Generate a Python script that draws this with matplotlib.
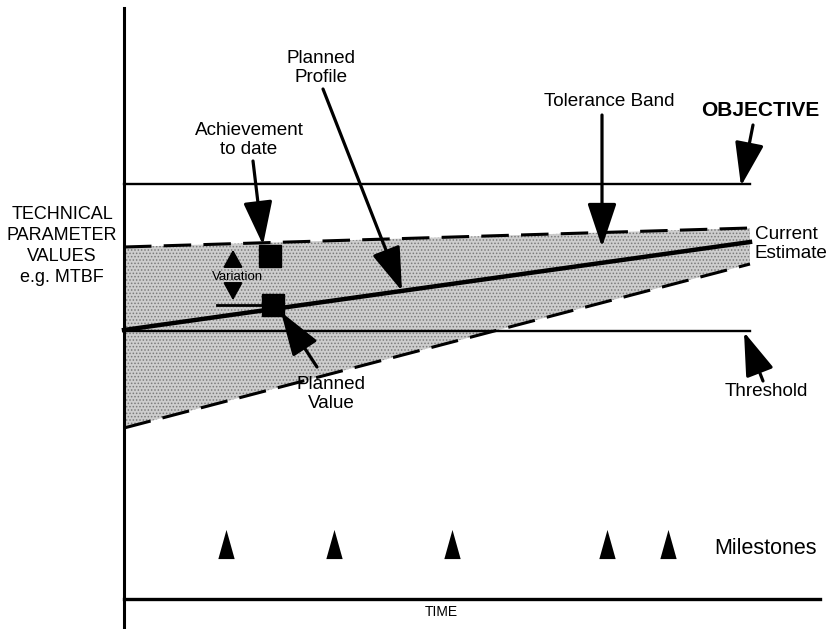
import matplotlib.pyplot as plt
from matplotlib.path import Path

plt.rcParams['font.family'] = ['Liberation Sans', 'DejaVu Sans']
plt.rcParams['hatch.linewidth'] = 0.7

# chart coordinates (x = time, y = drawing units, top = 0)
t_start, t_end = 124, 750
objective = 184
threshold = 331
upper_band = [247, 228]
lower_band = [428, 264]
planned_profile = [330, 242]
achievement = (270, 256)
planned_value = (273, 305)
milestones_x = [226, 334, 452, 607, 668]
milestone_y = 544

fig = plt.figure(figsize=(8.27, 6.29), dpi=100)
ax = fig.add_axes([0, 0, 1, 1])
ax.set_xlim(0, 827)
ax.set_ylim(629, 0)
ax.axis('off')

xs = [t_start, t_end]
# tolerance band
ax.fill_between(xs, upper_band, lower_band, facecolor='#cdcdcd', hatch='.....',
                edgecolor='#7a7a7a', lw=0, zorder=1)
ax.plot(xs, upper_band, color='black', lw=2.2, ls=(0, (9, 4)), zorder=3)
ax.plot(xs, lower_band, color='black', lw=2.2, ls=(0, (9, 4)), zorder=3)
ax.plot(xs, planned_profile, color='black', lw=3.2, zorder=3)

# objective / threshold
ax.plot([t_start, t_end], [objective, objective], color='black', lw=1.7)
ax.plot([t_start, t_end], [threshold, threshold], color='black', lw=1.7)

# axes
ax.plot([124, 124], [8, 628], color='black', lw=2.2)
ax.plot([124, 820], [599, 599], color='black', lw=2.4)

# achievement / planned value
ax.plot(*achievement, marker='s', ms=16, color='black', zorder=5)
ax.plot(*planned_value, marker='s', ms=16, color='black', zorder=5)
ax.plot([217, planned_value[0]], [planned_value[1], planned_value[1]], color='black', lw=2, zorder=4)

# variation arrows
ah = dict(arrowstyle='-|>,head_length=0.9,head_width=0.5', color='black', lw=1.5, mutation_scale=12)
ax.annotate('', xy=(233, 247), xytext=(233, 268), arrowprops=ah, zorder=6)
ax.annotate('', xy=(233, 303), xytext=(233, 284), arrowprops=ah, zorder=6)
ax.text(238, 277, 'Variation', fontsize=9.5, ha='center', va='center', zorder=6)

# milestones
tri = Path([(-0.28, -0.5), (0.28, -0.5), (0, 0.5), (-0.28, -0.5)])
ax.scatter(milestones_x, [milestone_y] * len(milestones_x), marker=tri, s=21 ** 2,
           color='black', linewidths=0)

big = dict(arrowstyle='-|>,head_length=1.8,head_width=0.6', color='black', lw=2.3,
           mutation_scale=15, shrinkA=0, shrinkB=0)


def label(txt, pos, tip, tail, size=13.6, weight='normal'):
    ax.text(*pos, txt, ha='center', va='center', fontsize=size, fontweight=weight,
            linespacing=1.2)
    ax.annotate('', xy=tip, xytext=tail, arrowprops=big, zorder=6)


label('Achievement\nto date', (249, 140), (263, 245), (253, 161))
label('Planned\nProfile', (321, 68), (402, 291), (323, 89))
label('Tolerance Band', (609, 101), (602, 247), (602, 115))
label('OBJECTIVE', (760, 110), (741, 186), (753, 125), size=15, weight='bold')
label('Threshold', (766, 392), (744, 332), (763, 381))
label('Planned\nValue', (331, 394), (281, 312), (317, 367))

ax.text(755, 244, 'Current\nEstimate', ha='left', va='center', fontsize=13.6, linespacing=1.2)
ax.text(62, 246, 'TECHNICAL\nPARAMETER\nVALUES\ne.g. MTBF', ha='center', va='center',
        fontsize=13, linespacing=1.3)
ax.text(765, 549, 'Milestones', ha='center', va='center', fontsize=15.5)
ax.text(441, 612, 'TIME', ha='center', va='center', fontsize=10)

fig.savefig('out.png', dpi=100)
